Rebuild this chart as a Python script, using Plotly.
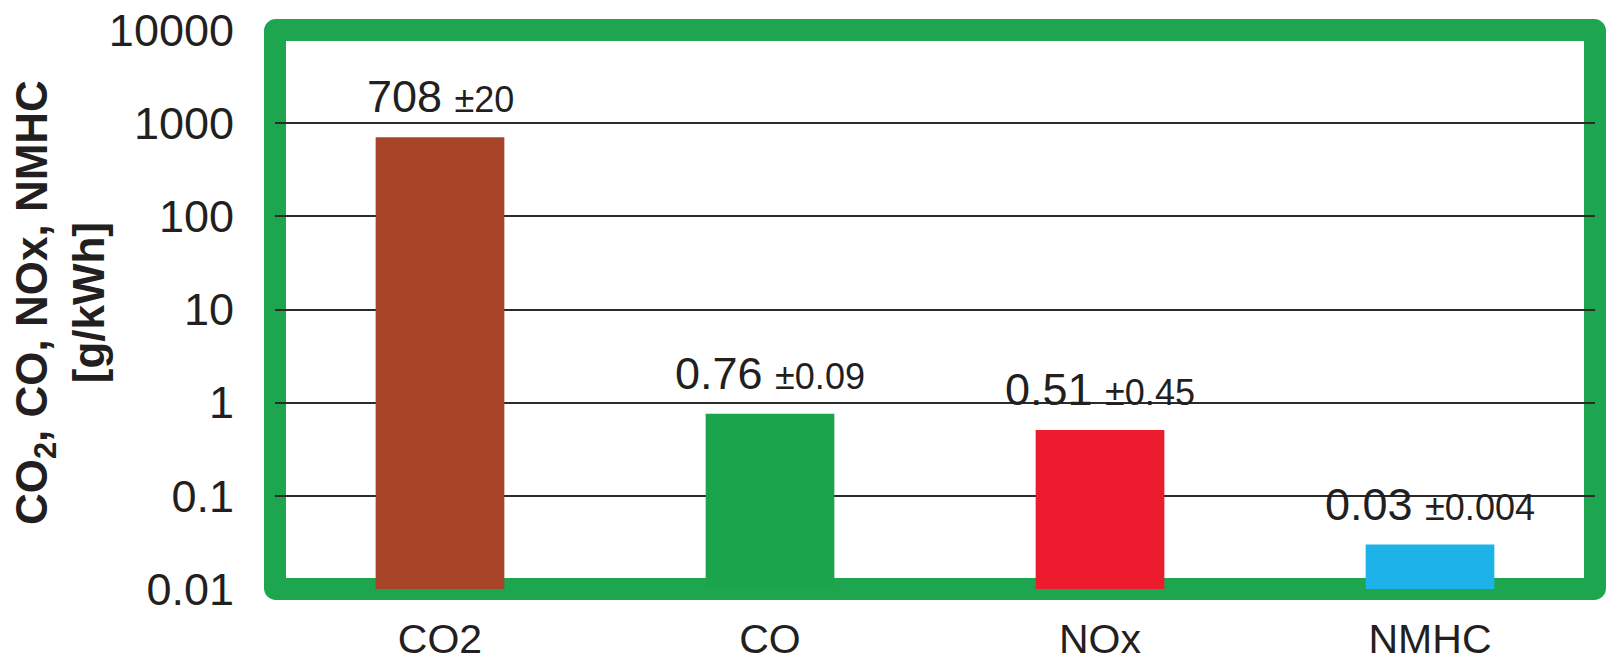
import math
import plotly.graph_objects as go

# emission values and spreads [g/kWh]
species = ['CO2', 'CO', 'NOx', 'NMHC']
values = [708, 0.76, 0.51, 0.03]
value_labels = ['708', '0.76', '0.51', '0.03']
spread_labels = ['±20', '±0.09', '±0.45', '±0.004']
bar_colors = ['#A84428', '#1BA44C', '#EC1C2E', '#1DB3E8']

tick_vals = [0.01, 0.1, 1, 10, 100, 1000, 10000]
tick_text = ['0.01', '0.1', '1', '10', '100', '1000', '10000']

FONT = 'Liberation Sans, Arial, sans-serif'
TEXT = '#231F20'
FRAME = '#1DA64F'

fig = go.Figure(
    go.Bar(
        x=species,
        y=values,
        marker=dict(color=bar_colors, line=dict(width=0)),
        width=0.39,
        hoverinfo='x+y'))

# value labels above bars
for name, val, lab, spread in zip(species, values, value_labels, spread_labels):
    fig.add_annotation(
        x=name, y=math.log10(val), xref='x', yref='y',
        text=lab + ' <span style="font-size:36px">' + spread + '</span>',
        showarrow=False, yanchor='bottom', yshift=13,
        font=dict(family=FONT, size=45, color=TEXT))

# y-axis title
fig.add_annotation(
    x=-0.163, y=0.513, xref='paper', yref='paper',
    text='<b>CO<sub>2</sub>, CO, NOx, NMHC<br>[g/kWh]</b>',
    textangle=-90, showarrow=False, xanchor='center', yanchor='middle',
    font=dict(family=FONT, size=44, color=TEXT))

# thick green frame with slightly rounded outer corners
dx, dy = 1.0 / 1320, 1.0 / 559
frame_path = (
    f'M {dx},0 L {1 - dx},0 Q 1,0 1,{dy} L 1,{1 - dy} Q 1,1 {1 - dx},1 '
    f'L {dx},1 Q 0,1 0,{1 - dy} L 0,{dy} Q 0,0 {dx},0 Z')
fig.add_shape(
    type='path', path=frame_path, xref='paper', yref='paper',
    line=dict(color=FRAME, width=22), layer='between')

fig.update_layout(
    width=1623, height=662,
    margin=dict(l=275, r=28, t=30, b=73),
    paper_bgcolor='white', plot_bgcolor='white',
    showlegend=False, bargap=0.6,
    font=dict(family=FONT, size=45, color=TEXT),
    xaxis=dict(
        range=[-0.5, 3.5], showgrid=False, showline=False, zeroline=False,
        automargin=False,
        ticks='outside', ticklen=14, tickcolor='rgba(0,0,0,0)',
        tickfont=dict(family=FONT, size=41, color=TEXT)),
    yaxis=dict(
        type='log', range=[-2, 4], tickvals=tick_vals, ticktext=tick_text,
        showgrid=True, gridcolor='#2a2a2a', gridwidth=1.5,
        showline=False, zeroline=False, automargin=False,
        ticks='outside', ticklen=31, tickcolor='rgba(0,0,0,0)',
        tickfont=dict(family=FONT, size=45, color=TEXT)))

# page without body margin so the figure fills the window exactly
fig.write_html(
    'out.html',
    config={'displayModeBar': False},
    post_script="document.body.style.margin='0';document.body.style.overflow='hidden';")
